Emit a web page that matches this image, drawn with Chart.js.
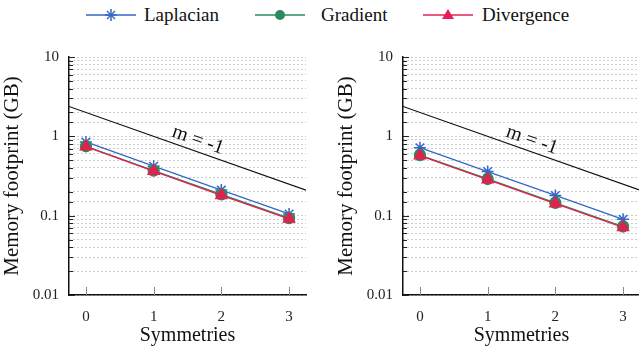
<!DOCTYPE html>
<html>
<head>
<meta charset="utf-8">
<script src="https://cdn.jsdelivr.net/npm/chart.js@4.4.1/dist/chart.umd.min.js"></script>
<style>
  body { margin: 0; width: 639px; height: 348px; overflow: hidden; background: #fff; position: relative; font-family: "Liberation Serif", "Times New Roman", Times, "DejaVu Serif", serif; }
  .panel { position: absolute; top: 0; width: 320px; height: 348px; }
  .leg { position: absolute; top: 3px; font-size: 19px; color: #111; line-height: 24px; }
  .legsym { position: absolute; top: 3px; }
</style>
</head>
<body>
<svg class="legsym" style="left:86px" width="50" height="24">
  <line x1="0" y1="12" x2="50" y2="12" stroke="#3566c8" stroke-width="1.5"/>
  <g stroke="#3566c8" stroke-width="1.5"><line x1="19" y1="12" x2="31" y2="12"/><line x1="25" y1="6" x2="25" y2="18"/><line x1="21" y1="8" x2="29" y2="16"/><line x1="29" y1="8" x2="21" y2="16"/></g>
</svg>
<span class="leg" style="left:144px">Laplacian</span>
<svg class="legsym" style="left:255px" width="50" height="24">
  <line x1="0" y1="12" x2="50" y2="12" stroke="#2b8a5c" stroke-width="1.5"/>
  <circle cx="25" cy="12" r="5" fill="#2b8a5c"/>
</svg>
<span class="leg" style="left:321px">Gradient</span>
<svg class="legsym" style="left:423px" width="50" height="24">
  <line x1="0" y1="12" x2="50" y2="12" stroke="#e3204f" stroke-width="1.5"/>
  <polygon points="25,6 31,16 19,16" fill="#e3204f"/>
</svg>
<span class="leg" style="left:482px">Divergence</span>

<div class="panel" style="left:0"><canvas id="left"></canvas></div>
<div class="panel" style="left:334px"><canvas id="right"></canvas></div>

<script>
const symmetries = [0, 1, 2, 3];
const lapLeft = [0.85, 0.42, 0.21, 0.105];
const gradLeft = [0.75, 0.37, 0.185, 0.093];
const divLeft = [0.74, 0.365, 0.18, 0.091];
const lapRight = [0.72, 0.36, 0.18, 0.09];
const gradRight = [0.58, 0.29, 0.145, 0.073];
const divRight = [0.57, 0.285, 0.142, 0.071];
// m = -1 guide line, read at the plot edges
const refX = [-0.25, 3.25];
const refY = [2.38, 0.21];
const yTickLabels = ['0.01', '0.1', '1', '10'];

const blue = '#3566c8', green = '#2b8a5c', red = '#e3204f';
const serif = '"Liberation Serif", "Times New Roman", Times, "DejaVu Serif", serif';

function pts(ys) {
  return symmetries.map((x, i) => ({ x: x, y: ys[i] }));
}

// tick marks drawn inward from the axes, and the slope label
const decor = {
  id: 'decor',
  afterDraw(chart) {
    const ctx = chart.ctx, area = chart.chartArea;
    const xs = chart.scales.x, ys = chart.scales.y;
    ctx.save();
    ctx.strokeStyle = '#888';
    ctx.lineWidth = 1;
    symmetries.forEach(v => {
      const px = Math.round(xs.getPixelForValue(v)) + 0.5;
      ctx.beginPath();
      ctx.moveTo(px, area.bottom);
      ctx.lineTo(px, area.bottom - 8);
      ctx.stroke();
    });
    ctx.strokeStyle = '#222';
    ys.ticks.forEach(t => {
      const py = Math.round(ys.getPixelForValue(t.value)) + 0.5;
      const major = yTickLabels.includes(String(t.value));
      ctx.beginPath();
      ctx.moveTo(area.left, py);
      ctx.lineTo(area.left + (major ? 6 : 4), py);
      ctx.stroke();
    });
    // slope label above the guide line
    const x0 = xs.getPixelForValue(refX[0]), y0 = ys.getPixelForValue(refY[0]);
    const x1 = xs.getPixelForValue(refX[1]), y1 = ys.getPixelForValue(refY[1]);
    const ang = Math.atan2(y1 - y0, x1 - x0);
    const cx = xs.getPixelForValue(1.6);
    const cy = y0 + (cx - x0) * (y1 - y0) / (x1 - x0);
    ctx.translate(cx, cy);
    ctx.rotate(ang);
    ctx.fillStyle = '#111';
    ctx.font = '20px ' + serif;
    ctx.textAlign = 'center';
    ctx.textBaseline = 'bottom';
    ctx.fillText('m = -1', 0, -1);
    ctx.restore();
  }
};

function makeChart(id, lap, grad, div) {
  return new Chart(document.getElementById(id), {
    type: 'line',
    data: {
      datasets: [
        { label: 'm = -1', data: refX.map((x, i) => ({ x: x, y: refY[i] })), borderColor: '#111', borderWidth: 1.2, pointRadius: 0, order: 4 },
        { label: 'Laplacian', data: pts(lap), borderColor: blue, backgroundColor: blue, borderWidth: 1.3, pointStyle: 'star', pointRadius: 6, pointBorderWidth: 1.5, order: 3 },
        { label: 'Gradient', data: pts(grad), borderColor: green, backgroundColor: green, borderWidth: 1.3, pointStyle: 'circle', pointRadius: 5.5, order: 2 },
        { label: 'Divergence', data: pts(div), borderColor: red, backgroundColor: red, borderWidth: 1.3, pointStyle: 'triangle', pointRadius: 6.5, order: 1 }
      ]
    },
    options: {
      responsive: false,
      animation: false,
      layout: { padding: { top: 57, right: 14, left: 0, bottom: 0 } },
      plugins: { legend: { display: false }, tooltip: { enabled: false } },
      scales: {
        x: {
          type: 'linear',
          min: -0.25,
          max: 3.25,
          afterBuildTicks: axis => { axis.ticks = symmetries.map(v => ({ value: v })); },
          afterFit: axis => { axis.height = 53; },
          grid: { display: false, drawTicks: false },
          border: { color: '#111', width: 1.5 },
          ticks: { padding: 13, color: '#222', font: { family: serif, size: 15 } },
          title: { display: true, text: 'Symmetries', color: '#111', font: { family: serif, size: 20 }, padding: { top: 1, bottom: 0 } }
        },
        y: {
          type: 'logarithmic',
          min: 0.01,
          max: 10,
          afterFit: axis => { axis.width = 69; },
          grid: { color: '#999', lineWidth: 1, drawTicks: false },
          border: { color: '#111', width: 1.5, dash: [1, 3] },
          ticks: {
            padding: 10,
            color: '#222',
            font: { family: serif, size: 15 },
            autoSkip: false,
            callback: v => yTickLabels.includes(String(v)) ? String(v) : ''
          },
          title: { display: true, text: 'Memory footprint (GB)', color: '#111', font: { family: serif, size: 21 }, padding: { top: 0, bottom: 3 } }
        }
      }
    },
    plugins: [decor]
  });
}

document.getElementById('left').width = 320;
document.getElementById('left').height = 348;
document.getElementById('right').width = 320;
document.getElementById('right').height = 348;
makeChart('left', lapLeft, gradLeft, divLeft);
makeChart('right', lapRight, gradRight, divRight);
</script>
</body>
</html>
